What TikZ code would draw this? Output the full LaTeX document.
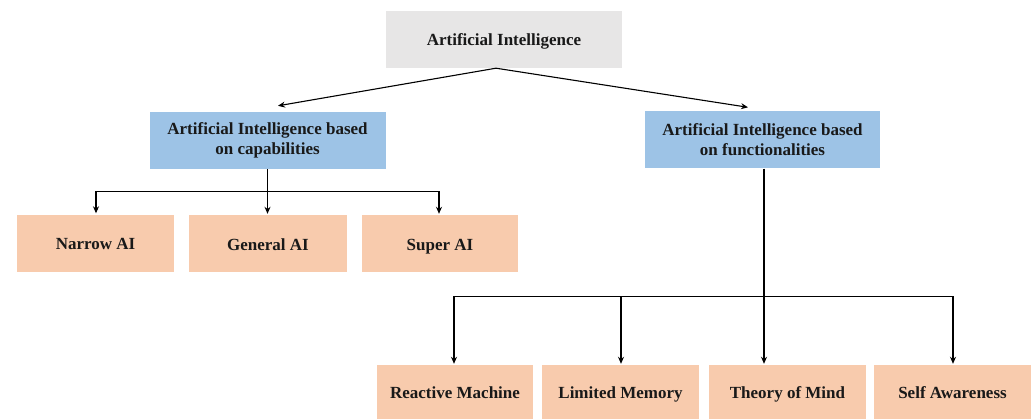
\documentclass[tikz,border=0pt]{standalone}
\usepackage{fontspec}
\setmainfont{Liberation Serif}
\usetikzlibrary{arrows.meta}
\definecolor{rootgray}{HTML}{E7E6E6}
\definecolor{catblue}{HTML}{9DC3E6}
\definecolor{leafpeach}{HTML}{F8CBAD}
\begin{document}
\begin{tikzpicture}[x=1pt,y=-1pt,
  box/.style={rectangle, inner sep=0pt, align=center, text=black!90,
    font=\bfseries\fontsize{17}{20}\selectfont},
  oneline/.style={text height=15pt, text depth=2pt},
  rootbox/.style={box, oneline, fill=rootgray, minimum width=236pt, minimum height=57pt},
  catbox/.style={box, fill=catblue, minimum width=236pt, minimum height=57pt},
  leafbox/.style={box, oneline, fill=leafpeach, minimum width=157pt, minimum height=57pt},
  lowbox/.style={box, oneline, fill=leafpeach, minimum width=157pt, minimum height=54pt},
  link/.style={draw=black, line width=1.1pt, -{Stealth[length=7pt,width=6pt]}},
  wire/.style={draw=black, line width=1.1pt}]
\useasboundingbox (0,0) rectangle (1035,419);

% root
\node[rootbox] (root) at (504,39.5) {Artificial Intelligence};

% two categories
\node[catbox] (capab) at (267.5,140.5) {Artificial Intelligence based\\on capabilities};
\node[catbox, minimum width=235pt] (func) at (762.5,140) {Artificial Intelligence based\\on functionalities};

% capability types
\node[leafbox] (narrow) at (95.5,243.5) {Narrow AI};
\node[leafbox, minimum width=158pt] (general) at (268,244) {General AI};
\node[leafbox, minimum width=156pt] (super) at (440,244) {Super AI};

% functionality types
\node[lowbox, minimum width=156pt] (reactive) at (455,392) {Reactive Machine};
\node[lowbox] (limited) at (620.5,392) {Limited Memory};
\node[lowbox] (theory) at (787.5,392) {Theory of Mind};
\node[lowbox] (selfaw) at (952.5,392) {Self Awareness};

% root to categories
\coordinate (apex) at ([xshift=-8pt]root.south);
\draw[link] (apex) -- ([xshift=10.5pt,yshift=6pt]capab.north);
\draw[link] (apex) -- ([xshift=-14.5pt,yshift=4pt]func.north);

% capability branch
\coordinate (lbus) at ([yshift=-22pt]capab.south);
\draw[wire] (capab.south) -- (lbus);
\draw[link] (lbus) -| ([xshift=0.5pt,yshift=1.5pt]narrow.north);
\draw[link] (lbus) -- ([yshift=1.5pt]general.north -| lbus);
\draw[link] (lbus) -| ([xshift=-1pt,yshift=1.5pt]super.north);

% functionality branch
\coordinate (rbus) at ([xshift=1.5pt,yshift=-128pt]func.south);
\draw[wire] ([xshift=1.5pt]func.south) -- (rbus);
\draw[link] (rbus) -| ([xshift=-1pt,yshift=1pt]reactive.north);
\draw[link] (rbus) -| ([xshift=0.5pt,yshift=1pt]limited.north);
\draw[link] (rbus) -- ([yshift=1pt]theory.north -| rbus);
\draw[link] (rbus) -| ([xshift=0.5pt,yshift=1pt]selfaw.north);
\end{tikzpicture}
\end{document}
